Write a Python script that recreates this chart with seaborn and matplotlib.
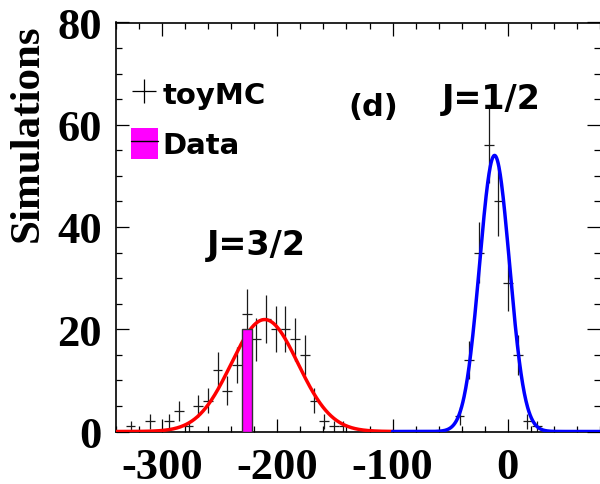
import numpy as np
import pandas as pd
import matplotlib
matplotlib.use("Agg")
import matplotlib.pyplot as plt
import seaborn as sns
from matplotlib.lines import Line2D
from matplotlib.patches import Patch
from matplotlib.legend_handler import HandlerTuple
from matplotlib.ticker import MultipleLocator

# ---------------- data ----------------
hist_range = (-340.0, 80.0)
n_bins = 50
toy_counts = [0, 1, 0, 2, 0, 2, 4, 1, 5, 6,
              12, 8, 13, 23, 18, 22, 20, 20, 18, 15,
              6, 2, 1, 1, 0, 0, 0, 0, 0, 0,
              0, 0, 0, 0, 0, 3, 14, 35, 56, 45,
              29, 15, 2, 1, 0, 0, 0, 0, 0, 0]
data_bin = 13
data_count = 20
# Gaussian fits: amplitude, mean, sigma, x-range
fit_j32 = [21.9, -211.0, 29.0]
fit_j32_range = [-340.0, -100.0]
fit_j12 = [54.0, -11.5, 13.0]
fit_j12_range = [-100.0, 80.0]
xtick_vals = [-300, -200, -100, 0]
xtick_labels = ["-300", "-200", "-100", "0"]
ytick_vals = [0, 20, 40, 60, 80]
ytick_labels = ["0", "20", "40", "60", "80"]

# ---------------- style ----------------
sns.set_style("ticks")
plt.rcParams["font.family"] = ["DejaVu Sans"]
for k in ["text.color", "axes.labelcolor", "xtick.color", "ytick.color", "axes.edgecolor"]:
    plt.rcParams[k] = "black"

W, H = 600, 485
fig = plt.figure(figsize=(W / 100, H / 100), dpi=100)
ax = fig.add_axes([116 / W, 1 - 432.5 / H, 484 / W, 409 / H])

edges = np.linspace(hist_range[0], hist_range[1], n_bins + 1)
centers = 0.5 * (edges[:-1] + edges[1:])
bw = edges[1] - edges[0]
counts = np.array(toy_counts, dtype=float)
nz = counts > 0

# toyMC crosses
ax.errorbar(centers[nz], counts[nz], xerr=bw / 2, yerr=np.sqrt(counts[nz]),
            fmt="none", ecolor="#1a1a1a", elinewidth=0.9, capsize=0, zorder=2)

def gauss_df(p, rng):
    x = np.linspace(rng[0], rng[1], 500)
    return pd.DataFrame({"x": x, "y": p[0] * np.exp(-0.5 * ((x - p[1]) / p[2]) ** 2)})

sns.lineplot(data=gauss_df(fit_j32, fit_j32_range), x="x", y="y", color="#ff0000",
             lw=2.5, estimator=None, ax=ax, zorder=3)
sns.lineplot(data=gauss_df(fit_j12, fit_j12_range), x="x", y="y", color="#0000ff",
             lw=2.5, estimator=None, ax=ax, zorder=3)

# Data bar
sns.histplot(x=[centers[data_bin]], weights=[data_count],
             bins=[edges[data_bin], edges[data_bin + 1]],
             color="#ff00ff", alpha=1.0, edgecolor="#333333", linewidth=1.0,
             ax=ax, zorder=4)

ax.set_xlim(*hist_range)
ax.set_ylim(0, 80)
ax.set_xlabel("")
ax.set_ylabel("")

ax.set_xticks(xtick_vals)
ax.set_xticklabels(xtick_labels)
ax.set_yticks(ytick_vals)
ax.set_yticklabels(ytick_labels)
ax.xaxis.set_minor_locator(MultipleLocator(20))
ax.yaxis.set_minor_locator(MultipleLocator(5))
ax.tick_params(which="both", direction="in", top=True, right=True, width=0.9, color="black")
ax.tick_params(which="major", length=9.5)
ax.tick_params(which="minor", length=4.5)
ax.tick_params(axis="x", which="major", pad=11)
ax.tick_params(axis="y", which="major", pad=10)
for lab in ax.get_xticklabels() + ax.get_yticklabels():
    lab.set_fontfamily("Liberation Serif")
    lab.set_fontweight("bold")
    lab.set_fontsize(32)
    lab.set_color("black")
for s in ["left", "top", "bottom"]:
    ax.spines[s].set_linewidth(1.2)
    ax.spines[s].set_color("black")
ax.spines["right"].set_visible(False)

fig.text(28 / W, 1 - 24 / H, "Simulations", rotation=90, ha="center", va="top",
         fontfamily="Liberation Serif", fontweight="bold", fontsize=31, color="black")

# Legend
h_toy = Line2D([], [], linestyle="none", marker="+", markersize=17,
               markeredgewidth=0.9, color="black")
h_data = (Patch(facecolor="#ff00ff", edgecolor="none"),
          Line2D([], [], color="black", lw=1.0))
leg = ax.legend([h_toy, h_data], ["toyMC", "Data"], loc="center left",
                bbox_to_anchor=(131 / W, 1 - 119.7 / H), bbox_transform=fig.transFigure,
                frameon=False, prop={"family": "DejaVu Sans", "weight": "bold", "size": 21},
                handlelength=0.92, handleheight=1.25, handletextpad=0.15,
                labelspacing=0.65, borderpad=0, borderaxespad=0,
                handler_map={tuple: HandlerTuple(ndivide=1, pad=0)})
for t in leg.get_texts():
    t.set_color("black")

# annotations
fig.text(373 / W, 1 - 108 / H, "(d)", ha="center", va="center",
         fontweight="bold", fontsize=22, color="black")
fig.text(491.7 / W, 1 - 109 / H, "J=1/2", ha="center", va="baseline",
         fontweight="bold", fontsize=24, color="black")
fig.text(256 / W, 1 - 255 / H, "J=3/2", ha="center", va="baseline",
         fontweight="bold", fontsize=24, color="black")

fig.savefig("out.png", dpi=100)
